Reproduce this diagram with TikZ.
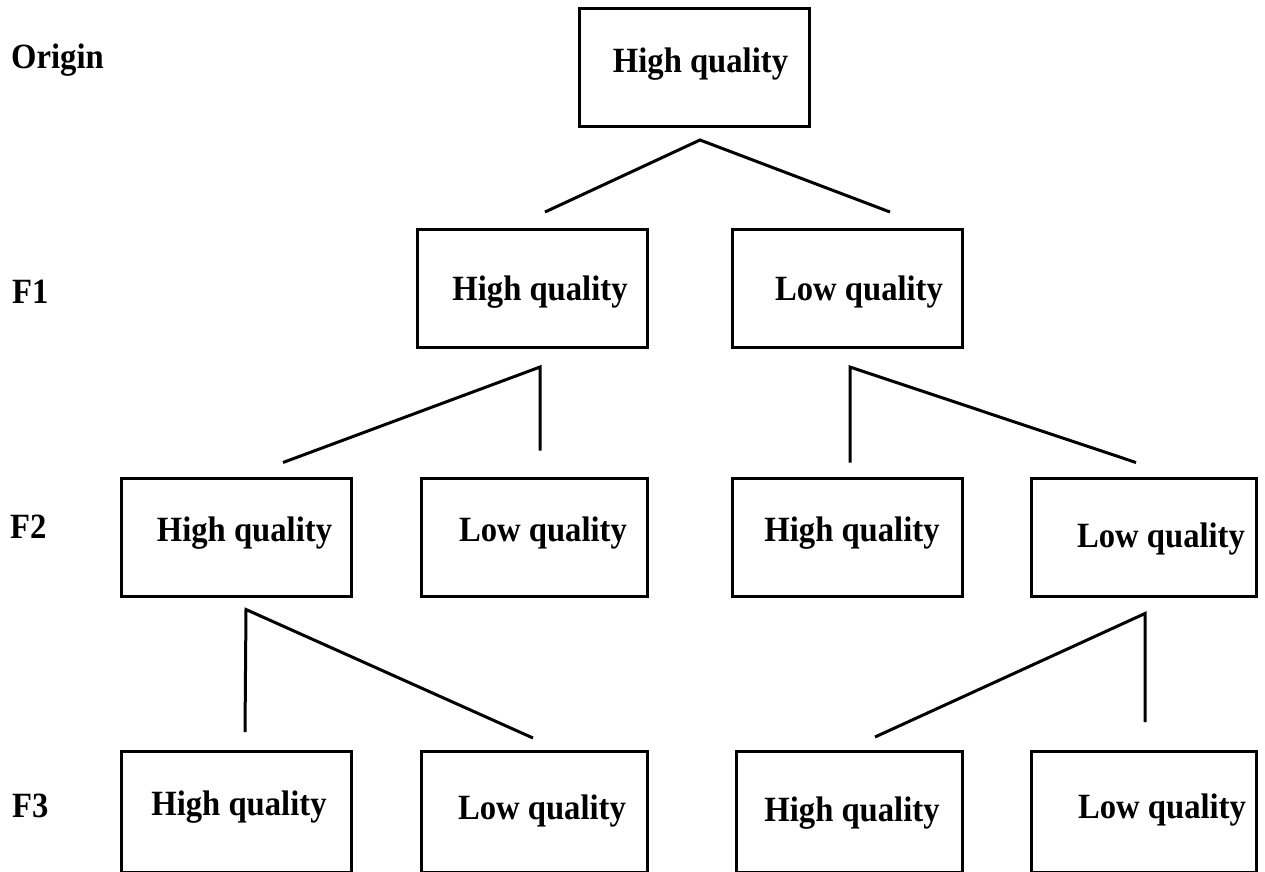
\documentclass[tikz,border=0pt]{standalone}
\usepackage{fontspec}
\setmainfont{Liberation Serif}[FakeStretch=0.92]
\usepackage{tikz}
\usetikzlibrary{positioning,calc}

\begin{document}
\begin{tikzpicture}[x=1pt,y=-1pt,
      box/.style={draw,line width=3pt,minimum width=230pt,minimum height=118pt,inner sep=0pt},
      txt/.style={font=\fontsize{35.5}{40}\selectfont\bfseries,inner sep=0pt},
      lvl/.style={txt,anchor=west},
      tie/.style={line width=3pt},
    ]
      \useasboundingbox (0,0) rectangle (1265,871);
      \clip (0,0) rectangle (1265,871);
      % Levels
      \node[lvl] (lo) at (11,60)  {Origin};
      \node[lvl] (l1) at (12,292) {F1};
      \node[lvl] (l2) at (10,527) {F2};
      \node[lvl] (l3) at (12,806) {F3};

      % Origin and first split
      \node[box,label={[txt,xshift=6pt,yshift=3pt]center:High quality}] (o) at (694.5,67.5) {};
      \node[box,label={[txt,xshift=8pt,yshift=-4pt]center:High quality}] (h1) at (532,288.5) {};
      \node[box,label={[txt,xshift=12pt,yshift=-4pt]center:Low quality}] (lw1) at (847,288.5) {};

      % F2
      \node[box,label={[txt,xshift=8pt,yshift=4pt]center:High quality}] (h2a) at (236.5,537) {};
      \node[box,minimum width=226pt,label={[txt,xshift=8.5pt,yshift=4pt]center:Low quality}] (lw2a) at (534.5,537) {};
      \node[box,label={[txt,xshift=5pt,yshift=4pt]center:High quality}] (h2b) at (847,537) {};
      \node[box,minimum width=225pt,label={[txt,xshift=17pt,yshift=-2pt]center:Low quality}] (lw2b) at (1144,537) {};

      % F3 (bottom edge runs off the page)
      \node[box,minimum height=121pt,label={[txt,xshift=2.5pt,yshift=4.5pt]center:High quality}] (h3a) at (236.5,812) {};
      \node[box,minimum height=121pt,minimum width=226pt,label={[txt,xshift=7.5pt,yshift=1.5pt]center:Low quality}] (lw3a) at (534.5,812) {};
      \node[box,minimum height=121pt,minimum width=226pt,label={[txt,xshift=2.5pt,yshift=-1pt]center:High quality}] (h3b) at (849.5,812) {};
      \node[box,minimum height=121pt,minimum width=225pt,label={[txt,xshift=18pt,yshift=2.5pt]center:Low quality}] (lw3b) at (1144,812) {};

      % Forks
      \coordinate (o-f)   at ($(o.south)+(5.5,12)$);
      \coordinate (h1-f)  at ($(h1.south)+(8,18)$);
      \coordinate (lw1-f) at ($(lw1.south)+(3,18)$);
      \coordinate (h2a-f) at ($(h2a.south)+(9.5,12)$);
      \coordinate (lw2b-f) at ($(lw2b.south)+(1,16)$);

      \draw[tie] ($(h1.north)+(13,-16)$) -- (o-f) -- ($(lw1.north)+(43,-16)$);
      \draw[tie] ($(h2a.north)+(46.5,-14)$) -- (h1-f) -- ($(lw2a.north)+(5.5,-26)$);
      \draw[tie] ($(h2b.north)+(3,-14)$) -- (lw1-f) -- ($(lw2b.north)+(-8,-14)$);
      \draw[tie] ($(h3a.north)+(8.5,-18)$) -- (h2a-f) -- ($(lw3a.north)+(-1.5,-12)$);
      \draw[tie] ($(h3b.north)+(25.5,-13)$) -- (lw2b-f) -- ($(lw3b.north)+(1,-28)$);
    \end{tikzpicture}
\end{document}
